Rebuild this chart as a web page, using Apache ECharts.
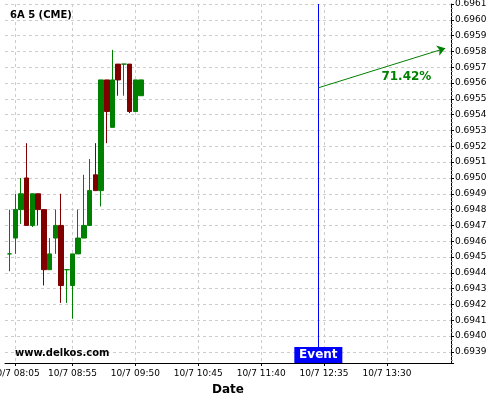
<!DOCTYPE html>
<html>
<head>
<meta charset="utf-8">
<style>
  html, body { margin: 0; padding: 0; background: #fff; }
  #chart { width: 500px; height: 400px; }
</style>
<script src="https://cdn.jsdelivr.net/npm/echarts@6/dist/echarts.min.js"></script>
</head>
<body>
<div id="chart"></div>
<script>
// 5-minute candles, 10/7
const times  = ['08:00','08:05','08:10','08:15','08:20','08:25','08:30','08:35','08:40','08:45','08:50','08:55',
                '09:00','09:05','09:10','09:15','09:20','09:25','09:30','09:35','09:40','09:45','09:50','09:55'];
const opens  = [0.69452,0.69462,0.69480,0.69500,0.69470,0.69490,0.69480,0.69442,0.69462,0.69470,0.69442,0.69432,
                0.69452,0.69462,0.69470,0.69502,0.69492,0.69562,0.69532,0.69572,0.69572,0.69572,0.69542,0.69552];
const closes = [0.69452,0.69480,0.69490,0.69470,0.69490,0.69480,0.69442,0.69452,0.69470,0.69432,0.69442,0.69452,
                0.69462,0.69470,0.69492,0.69492,0.69562,0.69542,0.69562,0.69562,0.69572,0.69542,0.69562,0.69562];
const lows   = [0.69441,0.69452,0.69471,0.69470,0.69469,0.69470,0.69432,0.69442,0.69452,0.69421,0.69421,0.69411,
                0.69452,0.69462,0.69470,0.69492,0.69482,0.69522,0.69532,0.69552,0.69552,0.69541,0.69542,0.69552];
const highs  = [0.69480,0.69490,0.69500,0.69522,0.69490,0.69490,0.69480,0.69462,0.69480,0.69490,0.69442,0.69452,
                0.69480,0.69502,0.69512,0.69522,0.69562,0.69562,0.69581,0.69572,0.69572,0.69572,0.69562,0.69562];

const xTickLabels = ['08:05','08:55','09:50','10:45','11:40','12:35','13:30'];
const xRange = ['07:56','14:26'];
const yRange = [0.69383, 0.6961];

const eventTime = '12:30';
const arrowFrom = ['12:30', 0.69557];
const arrowTo   = ['14:21', 0.69582];
const pctText = '71.42%';
const pctAt = ['13:47', 0.69564];

function toMin(t) {
  const p = t.split(':');
  return +p[0] * 60 + +p[1];
}
function fmtMin(m) {
  const h = Math.floor(m / 60), mm = Math.round(m % 60);
  return '10/7 ' + String(h).padStart(2, '0') + ':' + String(mm).padStart(2, '0');
}

const candles = times.map((t, i) => [toMin(t), opens[i], closes[i], lows[i], highs[i]]);
const xTicks = xTickLabels.map(toMin);

const green = '#008000';
const red = '#800000';
const font = 'DejaVu Sans';

const chart = echarts.init(document.getElementById('chart'));
chart.setOption({
  animation: false,
  textStyle: { fontFamily: font },
  title: [
    { text: '6A 5 (CME)', left: 10, top: 10, padding: 0, textStyle: { fontSize: 10, fontWeight: 'bold', color: '#000', fontFamily: font } },
    { text: 'www.delkos.com', left: 15, top: 348, padding: 0, textStyle: { fontSize: 10, fontWeight: 'bold', color: '#000', fontFamily: font } }
  ],
  grid: { left: 5, right: 49, top: 4, bottom: 37, containLabel: false, outerBoundsMode: 'none' },
  xAxis: {
    type: 'value',
    min: toMin(xRange[0]),
    max: toMin(xRange[1]),
    name: 'Date',
    nameLocation: 'middle',
    nameGap: 21,
    nameTextStyle: { fontSize: 12, fontWeight: 'bold', color: '#000', fontFamily: font },
    axisLine: { onZero: false, lineStyle: { color: '#000', width: 1 } },
    axisTick: { show: true, length: 3, lineStyle: { color: '#000' }, customValues: xTicks },
    axisLabel: { customValues: xTicks, formatter: fmtMin, fontSize: 9, color: '#000', margin: 6, fontFamily: font },
    splitLine: { show: true, lineStyle: { color: '#cccccc', type: [3, 3], width: 1 } }
  },
  yAxis: {
    type: 'value',
    position: 'right',
    scale: true,
    min: yRange[0],
    max: yRange[1],
    minInterval: 0.0001,
    maxInterval: 0.0001,
    splitNumber: 23,
    axisLine: { show: true, lineStyle: { color: '#000', width: 1 } },
    axisTick: { show: true, length: 3, lineStyle: { color: '#000' } },
    minorTick: { show: true, splitNumber: 4, length: 2, lineStyle: { color: '#999' } },
    axisLabel: { showMinLabel: false, formatter: v => v.toFixed(4), fontSize: 9, color: '#000', margin: 4, fontFamily: font },
    splitLine: { show: true, lineStyle: { color: '#cccccc', type: [3, 3], width: 1 } }
  },
  series: [
    {
      type: 'candlestick',
      data: candles,
      barWidth: 5,
      itemStyle: {
        color: green,
        color0: red,
        borderColor: green,
        borderColor0: red,
        borderColorDoji: green,
        borderWidth: 1
      },
      markLine: {
        silent: true,
        symbol: 'none',
        label: { show: false },
        lineStyle: { color: '#0000ff', width: 1, type: 'solid' },
        data: [{ xAxis: toMin(eventTime) }]
      },
      markPoint: {
        silent: true,
        data: [
          {
            coord: [toMin(eventTime), yRange[0]],
            symbol: 'rect',
            symbolSize: [48, 16],
            symbolOffset: [0, -8],
            itemStyle: { color: '#0000ff' },
            label: { show: true, formatter: 'Event', color: '#fff', fontSize: 12, fontWeight: 'bold', fontFamily: font }
          },
          {
            coord: [toMin(pctAt[0]), pctAt[1]],
            symbol: 'rect',
            symbolSize: 1,
            itemStyle: { color: 'rgba(0,0,0,0)' },
            label: { show: true, position: 'inside', formatter: pctText, color: green, fontSize: 12, fontWeight: 'bold', fontFamily: font }
          }
        ]
      }
    },
    {
      type: 'line',
      data: [],
      markLine: {
        silent: true,
        symbol: ['none', 'arrow'],
        symbolSize: 8,
        label: { show: false },
        lineStyle: { color: green, width: 1, type: 'solid' },
        data: [[
          { coord: [toMin(arrowFrom[0]), arrowFrom[1]] },
          { coord: [toMin(arrowTo[0]), arrowTo[1]] }
        ]]
      }
    }
  ]
});
</script>
</body>
</html>
